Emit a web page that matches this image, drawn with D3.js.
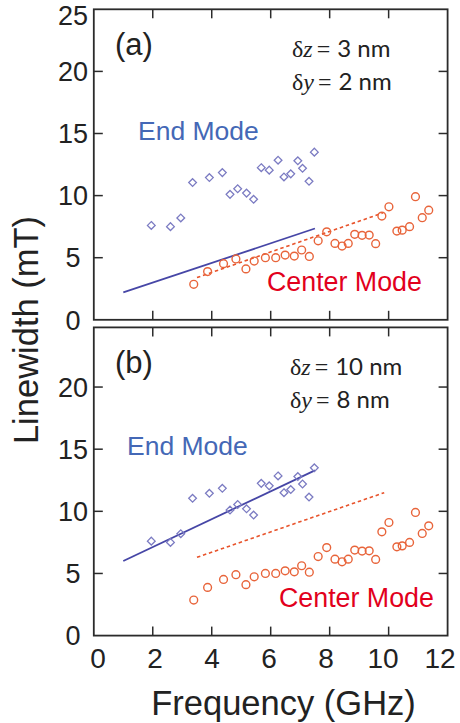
<!DOCTYPE html>
<html>
<head>
<meta charset="utf-8">
<script src="https://cdn.jsdelivr.net/npm/d3@7"></script>
<style>
  html, body { margin: 0; padding: 0; background: #fff; }
  svg { display: block; }
</style>
</head>
<body>
<svg id="chart" width="460" height="723"></svg>
<script>
// Measured linewidth vs. frequency (same data in both panels)
const endFreq = [1.95, 2.6, 2.95, 3.35, 3.92, 4.36, 4.62, 4.88, 5.18, 5.42, 5.68, 5.95, 6.25, 6.45, 6.68, 6.92, 7.08, 7.3, 7.48];
const endWidth = [7.6, 7.5, 8.2, 11.05, 11.45, 11.85, 10.1, 10.55, 10.2, 9.7, 12.25, 12.05, 12.85, 11.5, 11.75, 12.8, 12.2, 11.15, 13.5];

const centerFreq = [3.39, 3.86, 4.4, 4.82, 5.16, 5.44, 5.82, 6.17, 6.49, 6.8, 7.05, 7.31, 7.61, 7.9, 8.18, 8.42, 8.63, 8.85, 9.1, 9.34, 9.56, 9.77, 10.01, 10.28, 10.46, 10.71, 10.91, 11.14, 11.36];
const centerWidth = [2.86, 3.88, 4.52, 4.9, 4.1, 4.73, 5.0, 5.0, 5.21, 5.13, 5.62, 5.1, 6.36, 7.08, 6.15, 5.94, 6.15, 6.88, 6.8, 6.82, 6.13, 8.35, 9.1, 7.14, 7.22, 7.5, 9.91, 8.22, 8.83];

// Simulated linewidths (straight lines): [frequency, linewidth] end points
const simEndA = [[1.0, 2.2], [7.5, 7.35]];
const simCenterA = [[3.5, 3.4], [9.8, 8.6]];
const simEndB = [[1.0, 6.0], [7.5, 13.3]];
const simCenterB = [[3.5, 6.3], [9.85, 11.5]];

const xTicks = [0, 2, 4, 6, 8, 10, 12];
const yTicksA = [0, 5, 10, 15, 20, 25];
const yTicksB = [0, 5, 10, 15, 20];

const panelLabels = ["(a)", "(b)"];
const dz = ["3", "10"];
const dy = ["2", "8"];

const svg = d3.select("#chart");
const sans = "'Liberation Sans', Arial, Helvetica, sans-serif";
const serif = "'Liberation Serif', 'Times New Roman', serif";
const calib = "Lato, 'Open Sans', sans-serif";

const frameColor = "#2b2b2b";
const diamondColor = "#7b7bc2";
const endLineColor = "#4646a6";
const circleColor = "#e8643a";
const centerLineColor = "#e8532b";
const endTextColor = "#4468b6";
const centerTextColor = "#e2001c";

const x = d3.scaleLinear().domain([0, 12]).range([93.8, 447.6]);
const xLabelPos = d3.scaleLinear().domain([0, 12]).range([98, 440]);

const panels = [
  { y: d3.scaleLinear().domain([0, 25]).range([319.8, 9.3]), top: 25, ticks: yTicksA,
    simEnd: simEndA, simCenter: simCenterA, label: panelLabels[0], dz: dz[0], dy: dy[0] },
  { y: d3.scaleLinear().domain([0, 24.8]).range([635.6, 327.4]), top: 24.8, ticks: yTicksB,
    simEnd: simEndB, simCenter: simCenterB, label: panelLabels[1], dz: dz[1], dy: dy[1] }
];

const line = (y) => d3.line().x(d => x(d[0])).y(d => y(d[1]));

panels.forEach((p, i) => {
  const g = svg.append("g");
  const y = p.y;
  const yTop = y(p.top), yBot = y(0);

  // inward ticks on all four sides
  const tickLen = 9;
  const innerX = [2, 4, 6, 8, 10];
  const innerY = p.ticks.filter(t => t > 0 && t < p.top);
  innerX.forEach(t => {
    g.append("line").attr("x1", x(t)).attr("x2", x(t)).attr("y1", yBot).attr("y2", yBot - tickLen)
      .attr("stroke", frameColor).attr("stroke-width", 1.5);
    g.append("line").attr("x1", x(t)).attr("x2", x(t)).attr("y1", yTop).attr("y2", yTop + tickLen)
      .attr("stroke", frameColor).attr("stroke-width", 1.5);
  });
  innerY.forEach(t => {
    g.append("line").attr("x1", x(0)).attr("x2", x(0) + tickLen).attr("y1", y(t)).attr("y2", y(t))
      .attr("stroke", frameColor).attr("stroke-width", 1.5);
    g.append("line").attr("x1", x(12)).attr("x2", x(12) - tickLen).attr("y1", y(t)).attr("y2", y(t))
      .attr("stroke", frameColor).attr("stroke-width", 1.5);
  });

  // frame
  g.append("rect").attr("x", x(0)).attr("y", yTop).attr("width", x(12) - x(0)).attr("height", yBot - yTop)
    .attr("fill", "none").attr("stroke", frameColor).attr("stroke-width", 1.8);

  // y tick labels (the topmost one sits just inside the frame top)
  g.selectAll("text.ytick").data(p.ticks).join("text")
    .attr("class", "ytick")
    .attr("x", 73).attr("y", d => Math.max(y(d), yTop + 6)).attr("dy", "0.36em")
    .attr("text-anchor", "middle")
    .attr("font-family", sans).attr("font-size", 27).attr("fill", "#222")
    .text(d => d);

  // simulated lines
  g.append("path").datum(p.simEnd).attr("d", line(y))
    .attr("fill", "none").attr("stroke", endLineColor).attr("stroke-width", 1.8);
  g.append("path").datum(p.simCenter).attr("d", line(y))
    .attr("fill", "none").attr("stroke", centerLineColor).attr("stroke-width", 1.6)
    .attr("stroke-dasharray", "3.5,2.8");

  // end mode: diamonds
  const endPts = endFreq.map((f, k) => [f, endWidth[k]]);
  g.selectAll("path.dia").data(endPts).join("path")
    .attr("class", "dia")
    .attr("d", d3.symbol().type(d3.symbolDiamond2).size(38))
    .attr("transform", d => `translate(${x(d[0])},${y(d[1])})`)
    .attr("fill", "none").attr("stroke", diamondColor).attr("stroke-width", 1.3);

  // center mode: circles
  const cenPts = centerFreq.map((f, k) => [f, centerWidth[k]]);
  g.selectAll("circle.cen").data(cenPts).join("circle")
    .attr("class", "cen")
    .attr("cx", d => x(d[0])).attr("cy", d => y(d[1])).attr("r", 3.9)
    .attr("fill", "none").attr("stroke", circleColor).attr("stroke-width", 1.4);

  // panel label
  g.append("text").attr("x", 115).attr("y", yTop + 46)
    .attr("font-family", sans).attr("font-size", 31).attr("fill", "#222")
    .text(p.label);

  // mode labels
  g.append("text").attr("x", i === 0 ? 138 : 127).attr("y", i === 0 ? 140 : 455)
    .attr("font-family", sans).attr("font-size", 26.5).attr("fill", endTextColor)
    .text("End Mode");
  g.append("text").attr("x", i === 0 ? 267 : 279).attr("y", i === 0 ? 291 : 607)
    .attr("font-family", sans).attr("font-size", 26.8).attr("fill", centerTextColor)
    .text("Center Mode");

  // geometry annotation
  const ann = [[ "z", p.dz ], [ "y", p.dy ]];
  ann.forEach((a, k) => {
    const t = g.append("text").attr("x", i === 0 ? 292 : 290).attr("y", yTop + 48 + k * 33)
      .attr("fill", "#222");
    t.append("tspan").attr("font-family", serif).attr("font-size", 24).text("δ");
    t.append("tspan").attr("font-family", serif).attr("font-style", "italic").attr("font-size", 24).text(a[0]);
    t.append("tspan").attr("font-family", serif).attr("font-size", 24).attr("dx", 4).text("=");
    t.append("tspan").attr("font-family", calib).attr("font-size", 24).attr("dx", 7).text(a[1] + " nm");
  });
});

// x tick labels under the lower panel
svg.selectAll("text.xtick").data(xTicks).join("text")
  .attr("class", "xtick")
  .attr("x", d => xLabelPos(d)).attr("y", 668)
  .attr("text-anchor", "middle")
  .attr("font-family", sans).attr("font-size", 28).attr("fill", "#222")
  .text(d => d);

// axis titles
svg.append("text").attr("x", 283.5).attr("y", 715)
  .attr("text-anchor", "middle")
  .attr("font-family", sans).attr("font-size", 34.5).attr("fill", "#222")
  .text("Frequency (GHz)");

svg.append("text")
  .attr("transform", "translate(38,330) rotate(-90)")
  .attr("text-anchor", "middle")
  .attr("font-family", sans).attr("font-size", 34.5).attr("fill", "#222")
  .text("Linewidth (mT)");
</script>
</body>
</html>
